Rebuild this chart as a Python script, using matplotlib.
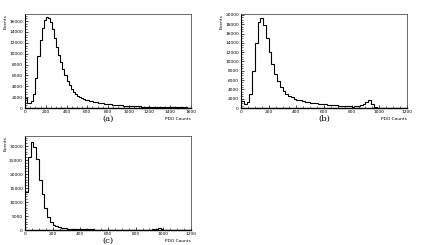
import numpy as np
import matplotlib
matplotlib.use('Agg')
import matplotlib.pyplot as plt
from matplotlib.ticker import MultipleLocator

plt.rcParams['font.family'] = 'DejaVu Sans'

# bin width 20 PDO counts, values are events per bin
bin_w = 20

counts_a = [1800, 900, 900, 1300, 2500, 5500, 9500, 12500, 14800, 16200,
            16800, 16500, 15800, 14500, 12800, 11200, 9800, 8400, 7100, 6000,
            5000, 4200, 3500, 2950, 2550, 2250, 2000, 1800, 1650, 1520,
            1400, 1300, 1210, 1130, 1060, 990, 930, 870, 820, 770,
            720, 670, 630, 590, 550, 520, 490, 460, 430, 410,
            390, 370, 350, 330, 310, 295, 280, 265, 250, 240,
            230, 220, 210, 200, 190, 180, 172, 165, 158, 150,
            143, 136, 130, 124, 118, 112, 107, 102, 97, 92]

counts_b = [1500, 900, 1300, 3000, 8000, 14000, 18500, 19300, 17800, 15000,
            12000, 9500, 7300, 5700, 4500, 3700, 3100, 2650, 2300, 2000,
            1800, 1650, 1500, 1380, 1270, 1170, 1080, 1000, 920, 850,
            780, 720, 660, 600, 550, 500, 460, 420, 380, 350,
            330, 350, 450, 650, 950, 1350, 1800, 900, 200, 60,
            30, 20, 15, 12, 10, 10, 8, 8, 6, 6]

counts_c = [13500, 26000, 31500, 29500, 25500, 18000, 13000, 8000, 4500, 2800,
            1800, 1300, 1000, 800, 650, 550, 470, 410, 360, 320,
            290, 260, 240, 220, 200, 185, 170, 160, 150, 140,
            130, 122, 115, 108, 102, 97, 92, 88, 84, 80,
            78, 76, 74, 72, 75, 90, 300, 550, 650, 300,
            60, 25, 15, 10, 8, 6, 5, 4, 3, 3]

panels = [
    # counts, xmax, ymax, x major, y major, y minor, label, rect
    (counts_a, 1600, 17300, 200, 2000, 500, '(a)', [0.058, 0.559, 0.384, 0.384]),
    (counts_b, 1200, 20200, 200, 2000, 500, '(b)', [0.558, 0.559, 0.384, 0.384]),
    (counts_c, 1200, 33600, 200, 5000, 1000, '(c)', [0.058, 0.061, 0.384, 0.384]),
]

fig = plt.figure(figsize=(4.32, 2.45), dpi=100)

for counts, xmax, ymax, xmaj, ymaj, ymin, lab, rect in panels:
    ax = fig.add_axes(rect)
    edges = np.arange(len(counts) + 1) * bin_w
    ax.stairs(counts, edges, color='black', linewidth=0.8)
    ax.set_xlim(0, xmax)
    ax.set_ylim(0, ymax)
    ax.xaxis.set_major_locator(MultipleLocator(xmaj))
    ax.xaxis.set_minor_locator(MultipleLocator(xmaj / 4))
    ax.yaxis.set_major_locator(MultipleLocator(ymaj))
    ax.yaxis.set_minor_locator(MultipleLocator(ymin))
    ax.tick_params(which='both', direction='in', labelsize=3.2, pad=1.5,
                   top=False, right=False)
    ax.tick_params(which='major', length=2.5, width=0.5)
    ax.tick_params(which='minor', length=1.2, width=0.4)
    for s in ['top', 'right']:
        ax.spines[s].set_color('#555555')
        ax.spines[s].set_linewidth(0.6)
    ax.spines['left'].set_linewidth(0.8)
    ax.spines['bottom'].set_linewidth(1.0)
    ax.text(-0.13, 1.0, 'Events', transform=ax.transAxes, rotation=90,
            ha='left', va='top', fontsize=3.2)
    ax.text(1.0, -0.09, 'PDO Counts', transform=ax.transAxes,
            ha='right', va='top', fontsize=3.2)
    ax.text(0.5, -0.07, lab, transform=ax.transAxes, ha='center', va='top',
            fontsize=6, family='DejaVu Serif')

fig.savefig('out.png', dpi=100)
